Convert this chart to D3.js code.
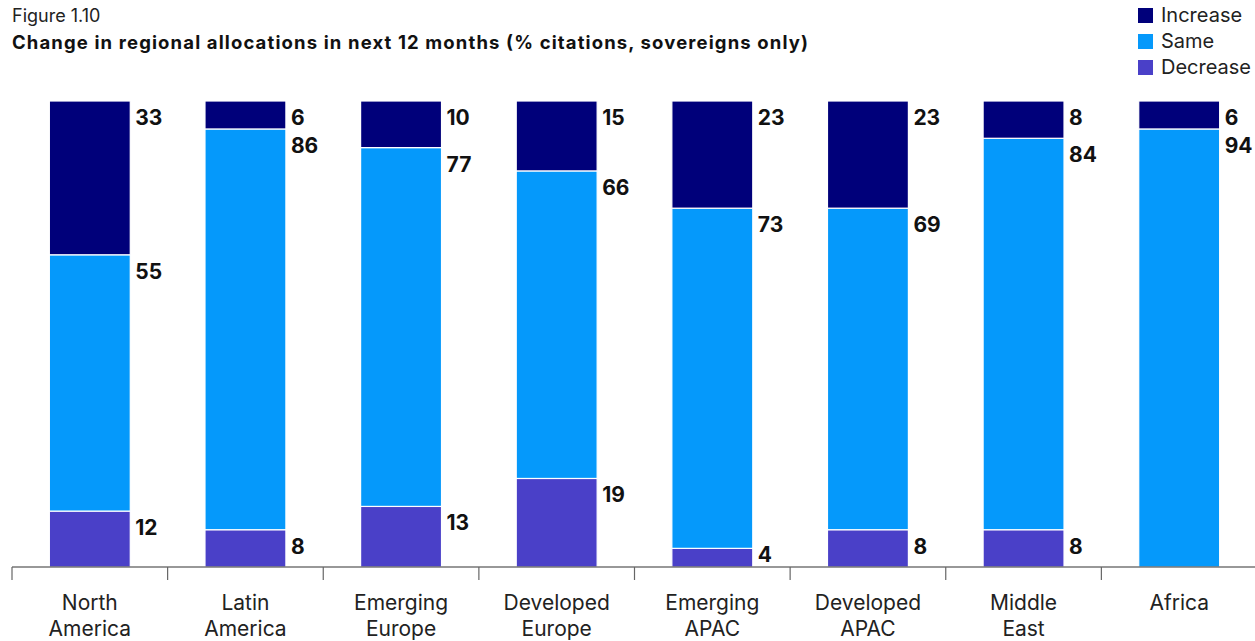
<!DOCTYPE html>
<html>
<head>
<meta charset="utf-8">
<script src="https://cdn.jsdelivr.net/npm/d3@7"></script>
<style>
  body { margin: 0; background: #fff; }
  svg { display: block; font-family: Inter, "Noto Sans", sans-serif; }
</style>
</head>
<body>
<svg id="chart" width="1255" height="641"></svg>
<script>
const categories = [["North", "America"], ["Latin", "America"], ["Emerging", "Europe"], ["Developed", "Europe"], ["Emerging", "APAC"], ["Developed", "APAC"], ["Middle", "East"], ["Africa"]];
const seriesNames = ["Decrease", "Same", "Increase"];
const increase = [33, 6, 10, 15, 23, 23, 8, 6];
const same = [55, 86, 77, 66, 73, 69, 84, 94];
const decrease = [12, 8, 13, 19, 4, 8, 8, 0];
const legendOrder = ["Increase", "Same", "Decrease"];
const colors = { Increase: "#00007a", Same: "#0599fb", Decrease: "#4a40c8" };

const svg = d3.select("#chart");
const plotLeft = 12, plotRight = 1257, plotTop = 101, plotBottom = 567;

const keys = categories.map(c => c.join(" "));
const rows = keys.map((k, i) => ({ key: k, Decrease: decrease[i], Same: same[i], Increase: increase[i] }));
const stacked = d3.stack().keys(seriesNames)(rows);

const x = d3.scaleBand().domain(keys).range([plotLeft, plotRight]).paddingInner(0.48).paddingOuter(0.24);
const y = d3.scaleLinear().domain([0, 100]).range([plotBottom, plotTop]);

// Title
svg.append("text").attr("x", 12).attr("y", 22).attr("font-size", 18).attr("fill", "#222").text("Figure 1.10");
svg.append("text").attr("x", 12).attr("y", 49).attr("font-size", 18.5).attr("font-weight", 700).attr("fill", "#111")
  .attr("textLength", 796).attr("lengthAdjust", "spacing")
  .text("Change in regional allocations in next 12 months (% citations, sovereigns only)");

// Bars
const g = svg.append("g");
stacked.forEach(layer => {
  const name = layer.key;
  layer.forEach((d, i) => {
    const v = d[1] - d[0];
    if (v <= 0) return;
    g.append("rect")
      .attr("x", x(keys[i]))
      .attr("y", y(d[1]))
      .attr("width", x.bandwidth())
      .attr("height", y(d[0]) - y(d[1]))
      .attr("fill", colors[name])
      .attr("stroke", "#fff")
      .attr("stroke-width", 1.2);
    g.append("text")
      .attr("x", x(keys[i]) + x.bandwidth() + 5)
      .attr("y", Math.min(y(d[1]) + 24, plotBottom - 5))
      .attr("font-size", 21)
      .attr("font-weight", 700)
      .attr("fill", "#111")
      .text(v);
  });
});

// Axis
const axisG = svg.append("g");
axisG.append("line").attr("x1", plotLeft).attr("x2", 1255).attr("y1", plotBottom).attr("y2", plotBottom)
  .attr("stroke", "#333").attr("stroke-width", 1.2);
const step = x.step();
d3.range(keys.length + 1).map(i => x(keys[0]) - x.paddingOuter() * step + i * step)
  .forEach(bx => {
    axisG.append("line").attr("x1", bx).attr("x2", bx).attr("y1", plotBottom).attr("y2", plotBottom + 13)
      .attr("stroke", "#666").attr("stroke-width", 1.2);
  });
categories.forEach((c, i) => {
  const cx = x(keys[i]) + x.bandwidth() / 2;
  const t = axisG.append("text").attr("text-anchor", "middle").attr("font-size", 21).attr("fill", "#222");
  c.forEach((line, j) => {
    t.append("tspan").attr("x", cx).attr("y", 610 + j * 26).text(line);
  });
});

// Legend
const lg = svg.append("g");
legendOrder.forEach((name, i) => {
  lg.append("rect").attr("x", 1138).attr("y", 8 + i * 26).attr("width", 15).attr("height", 15).attr("fill", colors[name]);
  lg.append("text").attr("x", 1161).attr("y", 22 + i * 26).attr("font-size", 20).attr("fill", "#222").text(name);
});
</script>
</body>
</html>
